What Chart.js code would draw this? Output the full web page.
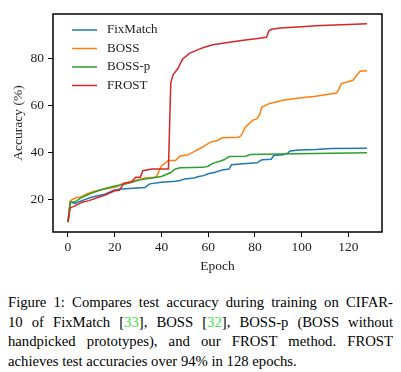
<!DOCTYPE html>
<html>
<head>
<meta charset="utf-8">
<script src="https://cdn.jsdelivr.net/npm/chart.js@4/dist/chart.umd.min.js"></script>
<style>
body { margin:0; background:#fff; width:401px; height:372px; overflow:hidden; }
#wrap { position:absolute; left:0; top:0; width:401px; height:280px; }
#caption { position:absolute; left:8px; top:293px; width:385px; font-family:"Liberation Serif", serif; font-size:14.7px; line-height:19.5px; color:#000; }
#caption .ln { text-align:justify; text-align-last:justify; white-space:nowrap; }
#caption .last { text-align:left; text-align-last:left; }
.ref { color:#3ee03e; }
</style>
</head>
<body>
<div id="wrap"><canvas id="graph_1"></canvas></div>
<div id="caption">
  <div class="ln">Figure 1: Compares test accuracy during training on CIFAR-</div>
  <div class="ln">10 of FixMatch [<span class="ref">33</span>], BOSS [<span class="ref">32</span>], BOSS-p (BOSS without</div>
  <div class="ln">handpicked prototypes), and our FROST method. FROST</div>
  <div class="ln last">achieves test accuracies over 94% in 128 epochs.</div>
</div>
<script>
// values (epoch, accuracy %)
var fixEpoch = [0,1,3,6,10,16,20,23,33,35,40,46,48,50,54,56,58,60,63,65,66,69,70,75,81,82,83,87,88,92,94,95,99,106,113,128];
var fixAcc   = [10.5,19,18.4,19.6,21,22.4,24.1,24.5,25.2,26.7,27.4,27.8,28.1,28.8,29.2,29.8,30.2,31,31.6,32.3,32.6,33,34.8,35.2,35.6,36.3,36.9,37.1,38.7,39,39.7,40.6,41.1,41.3,41.7,41.8];

var bossEpoch = [0,1,3,5,8,11,16,21,23,27,33,37,38,40,43,46,48,51,54,57,61,64,66,73,74,76,79,81,82,83,86,92,99,106,115,116,117,122,123,125,128];
var bossAcc   = [10.5,19.6,20.7,21,22.4,23.5,24.5,25.5,26.7,27.7,29.2,29.5,30,34.3,36.6,36.6,38.5,38.9,40.4,42,44.4,45.1,46.2,46.5,47,50.8,53.6,54.3,56,59.3,60.7,62.1,63.1,63.8,65.2,67,69.2,70.6,72,74.4,74.6];

var bosspEpoch = [0,1,3,6,10,15,20,25,31,36,40,44,46,48,58,60,62,65,67,69,76,78,90,128];
var bosspAcc   = [10.5,18.9,19.1,21,22.7,24.5,25.8,26.7,28.4,29.2,29.8,31.5,33,33.5,33.7,34.2,35.4,36.3,37,38.3,38.4,39.1,39.4,39.9];

var frostEpoch = [0,1,3,6,9,13,16,20,22,24,27,29,31,32,36,43,44,45,47,49,52,56,58,62,69,76,82,85,86,87,91,100,106,117,128];
var frostAcc   = [10.5,16.5,17.4,18.9,19.6,21,22,23.8,24,27,27.4,29.5,29.5,32.3,33,33,69.5,73,75.5,79.5,82,83.7,84.5,85.7,86.7,87.7,88.4,88.8,91.6,92.2,92.8,93.3,93.7,94.1,94.6];

var xTicks = [0,20,40,60,80,100,120];
var yTicks = [20,40,60,80];

function pts(ep, acc) {
  return ep.map(function(e, i) { return {x: e, y: acc[i]}; });
}

var serif = '"Liberation Serif", "Times New Roman", serif';

// frame around the plot + legend inside top-left
var framePlugin = {
  id: 'frame',
  afterDatasetsDraw: function(chart) {
    var ctx = chart.ctx, a = chart.chartArea;
    ctx.save();
    ctx.strokeStyle = '#000';
    ctx.lineWidth = 1.5;
    ctx.strokeRect(a.left, a.top, a.right - a.left, a.bottom - a.top);
    ctx.font = '13px ' + serif;
    ctx.textBaseline = 'middle';
    chart.data.datasets.forEach(function(ds, i) {
      var y = a.top + 16 + i * 18.5;
      ctx.strokeStyle = ds.borderColor;
      ctx.lineWidth = 1.5;
      ctx.beginPath();
      ctx.moveTo(a.left + 19, y);
      ctx.lineTo(a.left + 44, y);
      ctx.stroke();
      ctx.fillStyle = '#222';
      ctx.fillText(ds.label, a.left + 54, y);
    });
    ctx.restore();
  }
};

var ctx = document.getElementById('graph_1');
var myChart = new Chart(ctx, {
  type: 'line',
  data: {
    datasets: [{
      label: 'FixMatch',
      data: pts(fixEpoch, fixAcc),
      borderColor: '#1f77b4',
      backgroundColor: '#1f77b4',
      order: 4
    }, {
      label: 'BOSS',
      data: pts(bossEpoch, bossAcc),
      borderColor: '#ff7f0e',
      backgroundColor: '#ff7f0e',
      order: 3
    }, {
      label: 'BOSS-p',
      data: pts(bosspEpoch, bosspAcc),
      borderColor: '#2ca02c',
      backgroundColor: '#2ca02c',
      order: 2
    }, {
      label: 'FROST',
      data: pts(frostEpoch, frostAcc),
      borderColor: '#d62728',
      backgroundColor: '#d62728',
      order: 1
    }]
  },
  options: {
    responsive: true,
    maintainAspectRatio: false,
    animation: false,
    layout: { padding: { top: 14, right: 19, left: 0, bottom: 0 } },
    elements: {
      point: { radius: 0 },
      line: { borderWidth: 1.5, tension: 0 }
    },
    plugins: {
      legend: { display: false },
      tooltip: { enabled: false }
    },
    scales: {
      x: {
        type: 'linear',
        min: -6.4,
        max: 134.4,
        afterBuildTicks: function(s) { s.ticks = xTicks.map(function(v) { return {value: v}; }); },
        afterFit: function(s) { s.height = 48; },
        border: { display: false },
        grid: { drawOnChartArea: false, drawTicks: true, tickLength: 5, tickColor: '#000', tickWidth: 1 },
        ticks: { font: { family: serif, size: 13.5 }, color: '#222', padding: 2, maxRotation: 0 },
        title: { display: true, text: 'Epoch', font: { family: serif, size: 13.5 }, color: '#222', padding: { top: 2, bottom: 5 } }
      },
      y: {
        min: 6.3,
        max: 98.7,
        afterBuildTicks: function(s) { s.ticks = yTicks.map(function(v) { return {value: v}; }); },
        afterFit: function(s) { s.width = 53; },
        border: { display: false },
        grid: { drawOnChartArea: false, drawTicks: true, tickLength: 5, tickColor: '#000', tickWidth: 1 },
        ticks: { font: { family: serif, size: 13.5 }, color: '#222', padding: 4 },
        title: { display: true, text: 'Accuracy (%)', font: { family: serif, size: 13.5 }, color: '#222', padding: { top: 10, bottom: 0 } }
      }
    }
  },
  plugins: [framePlugin]
});
</script>
</body>
</html>
